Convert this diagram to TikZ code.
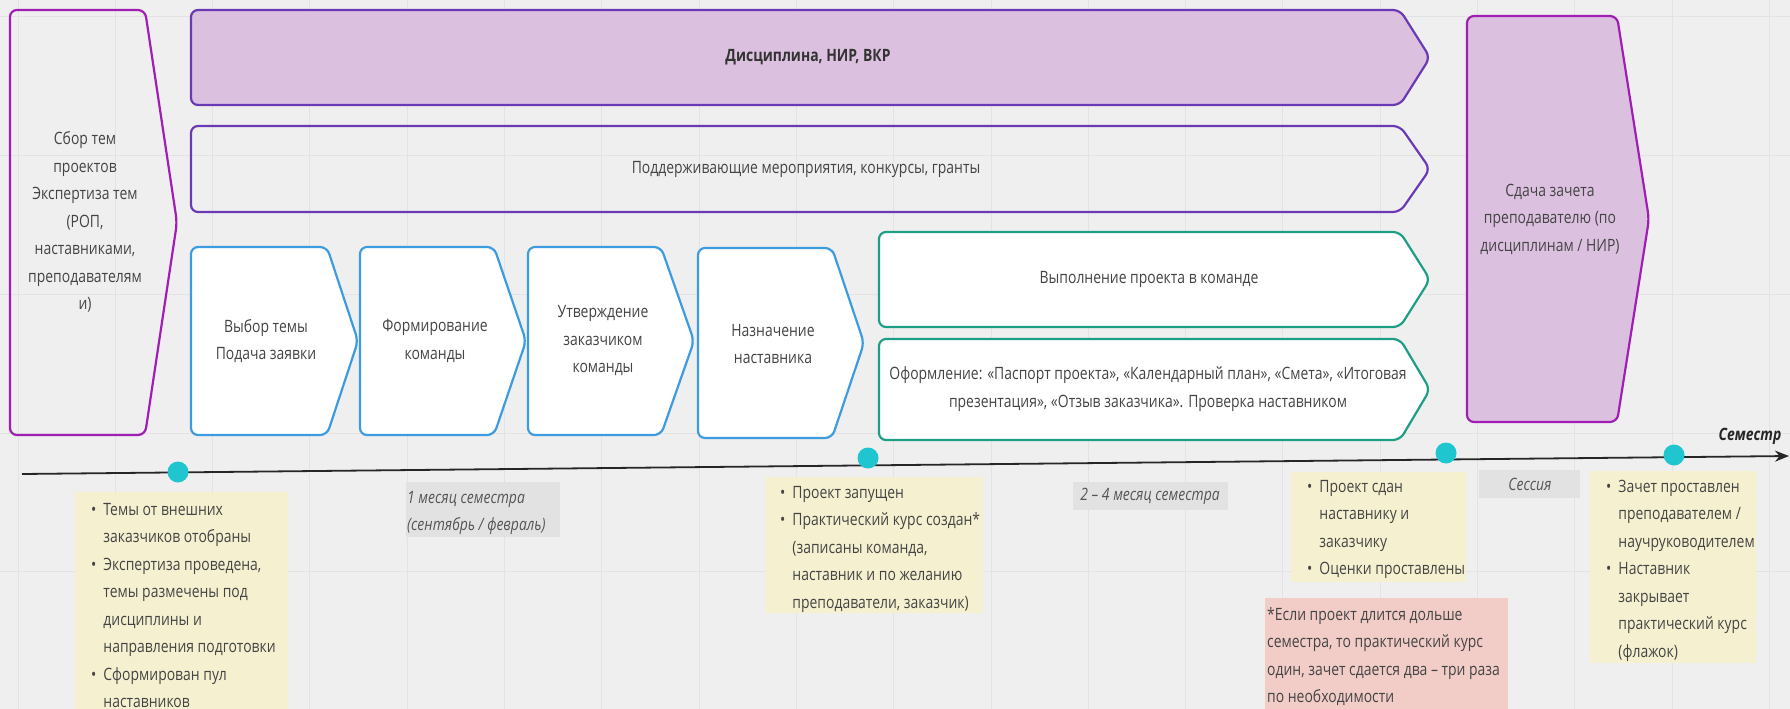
\documentclass[tikz,border=0pt]{standalone}
\usepackage{fontspec}
\setmainfont{Open Sans}[FakeStretch=0.82]
\usetikzlibrary{arrows.meta}
\definecolor{bg}{HTML}{EFEFEF}
\definecolor{gridc}{HTML}{E3E3E3}
\definecolor{violetc}{HTML}{6A3AB4}
\definecolor{magentac}{HTML}{A01EB4}
\definecolor{lilac}{HTML}{DCC0E0}
\definecolor{bluec}{HTML}{3D9BE0}
\definecolor{greenc}{HTML}{1F9E86}
\definecolor{dotc}{HTML}{1FC6D0}
\definecolor{notey}{HTML}{F5F1D0}
\definecolor{notep}{HTML}{F2CDC8}
\definecolor{labg}{HTML}{E2E2E2}
\definecolor{txt}{HTML}{444444}
\definecolor{labtxt}{HTML}{555555}
\newcommand\chevron[6]{\draw[#1] (#2,#3) -- (#4,#3) -- (#5,{(#3+#6)/2}) -- (#4,#6) -- (#2,#6) -- cycle;}
\tikzset{
  shapeline/.style={line width=2.2pt, rounded corners=7pt, line join=round},
  bandbox/.style={shapeline, draw=violetc},
  endbox/.style={shapeline, draw=magentac},
  stepbox/.style={shapeline, draw=bluec, fill=white},
  workbox/.style={shapeline, draw=greenc, fill=white},
  txtnode/.style={align=center, text=txt, inner sep=0pt, font=\fontsize{17}{27.5}\selectfont},
  listnode/.style={anchor=base west, text=txt, inner sep=0pt, font=\fontsize{17}{27.5}\selectfont},
  labnode/.style={text=labtxt, inner sep=0pt, font=\fontsize{17}{27.5}\selectfont\itshape},
  dot/.style={circle, fill=dotc, minimum size=21pt, inner sep=0pt},
}
\newenvironment{blist}{\begin{tabular}[t]{@{}l@{\hspace{7pt}}l@{}}}{\end{tabular}}
\newenvironment{plist}{\begin{tabular}[t]{@{}l@{}}}{\end{tabular}}
\begin{document}
\begin{tikzpicture}[x=1pt,y=-1pt]
\useasboundingbox (0,0) rectangle (1790,709);
\fill[bg] (0,0) rectangle (1790,709);
% grid
\foreach \i in {0,...,18} {\draw[gridc, line width=1pt] ({18+97.3*\i},0) -- ({18+97.3*\i},709);}
\foreach \j in {0,...,5} {\draw[gridc, line width=1pt] (0,{17+138.7*\j}) -- (1790,{17+138.7*\j});}

% shapes
\chevron{endbox}{10}{10}{145}{177}{435}
\chevron{bandbox, fill=lilac}{191}{10}{1400}{1430}{105}
\chevron{bandbox}{191}{126}{1400}{1430}{212}
\chevron{stepbox}{191}{247}{327}{358}{435}
\chevron{stepbox}{360}{247}{494}{526}{435}
\chevron{stepbox}{528}{247}{661}{694}{435}
\chevron{stepbox}{698}{248}{832}{864}{438}
\chevron{workbox}{879}{232}{1400}{1430}{327}
\chevron{workbox}{879}{339}{1400}{1430}{440}
\chevron{endbox, fill=lilac}{1467}{16}{1617}{1649}{422}

% texts in shapes
\node[txtnode] (collect) at (85,222) {Сбор тем\\проектов\\Экспертиза тем\\(РОП,\\наставниками,\\преподавателям\\и)};
\node[txtnode, font=\fontsize{17}{27.5}\selectfont\bfseries, text=black!80] (disc) at (808,57) {Дисциплина, НИР, ВКР};
\node[txtnode] (support) at (806,169) {Поддерживающие мероприятия, конкурсы, гранты};
\node[txtnode] (s1) at (266,341) {Выбор темы\\Подача заявки};
\node[txtnode] (s2) at (435,341) {Формирование\\команды};
\node[txtnode] (s3) at (603,341) {Утверждение\\заказчиком\\команды};
\node[txtnode] (s4) at (773,344) {Назначение\\наставника};
\node[txtnode] (exec) at (1149,279) {Выполнение проекта в команде};
\node[txtnode] (docs) at (1148,389) {Оформление: «Паспорт проекта», «Календарный план», «Смета», «Итоговая\\презентация», «Отзыв заказчика». Проверка наставником};
\node[txtnode] (credit) at (1550,219) {Сдача зачета\\преподавателю (по\\дисциплинам / НИР)};

% timeline
\coordinate (t0) at (22,474);
\coordinate (t1) at (1789,456);
\draw[line width=1.8pt, draw=black!85, -{Stealth[length=14pt,width=11pt]}] (t0) -- (t1);
\node[inner sep=0pt, font=\fontsize{17}{20}\selectfont\bfseries\itshape, text=black!85] (sem) at (1750,436) {Семестр};
\node[dot] (d1) at (178,472) {};
\node[dot] (d2) at (868,458) {};
\node[dot] (d3) at (1446,453) {};
\node[dot] (d4) at (1674,455) {};

% grey labels
\fill[labg] (406,482) rectangle (560,537);
\node[labnode, anchor=base west] (lab1) at (407,503) {\begin{plist}1 месяц семестра\\(сентябрь / февраль)\end{plist}};
\fill[labg] (1073,482) rectangle (1228,510);
\node[labnode] (lab2) at (1150,496) {2 – 4 месяц семестра};
\fill[labg] (1479,470) rectangle (1580,498);
\node[labnode] (lab3) at (1530,484) {Сессия};

% notes
\fill[notey] (75,492) rectangle (288,709);
\node[listnode] (n1) at (91,515) {\begin{blist}
•& Темы от внешних\\
 & заказчиков отобраны\\
•& Экспертиза проведена,\\
 & темы размечены под\\
 & дисциплины и\\
 & направления подготовки\\
•& Сформирован пул\\
 & наставников
\end{blist}};
\fill[notey] (765,477) rectangle (983,613);
\node[listnode] (n2) at (780,498) {\begin{blist}
•& Проект запущен\\
•& Практический курс создан*\\
 & (записаны команда,\\
 & наставник и по желанию\\
 & преподаватели, заказчик)
\end{blist}};
\fill[notey] (1291,472) rectangle (1466,582);
\node[listnode] (n3) at (1307,492) {\begin{blist}
•& Проект сдан\\
 & наставнику и\\
 & заказчику\\
•& Оценки проставлены
\end{blist}};
\fill[notey] (1590,471) rectangle (1756,663);
\node[listnode] (n4) at (1606,492) {\begin{blist}
•& Зачет проставлен\\
 & преподавателем /\\
 & научруководителем\\
•& Наставник\\
 & закрывает\\
 & практический курс\\
 & (флажок)
\end{blist}};
\fill[notep] (1265,598) rectangle (1508,709);
\node[listnode] (n5) at (1267,620) {\begin{plist}*Если проект длится дольше\\семестра, то практический курс\\один, зачет сдается два – три раза\\по необходимости\end{plist}};
\end{tikzpicture}
\end{document}
